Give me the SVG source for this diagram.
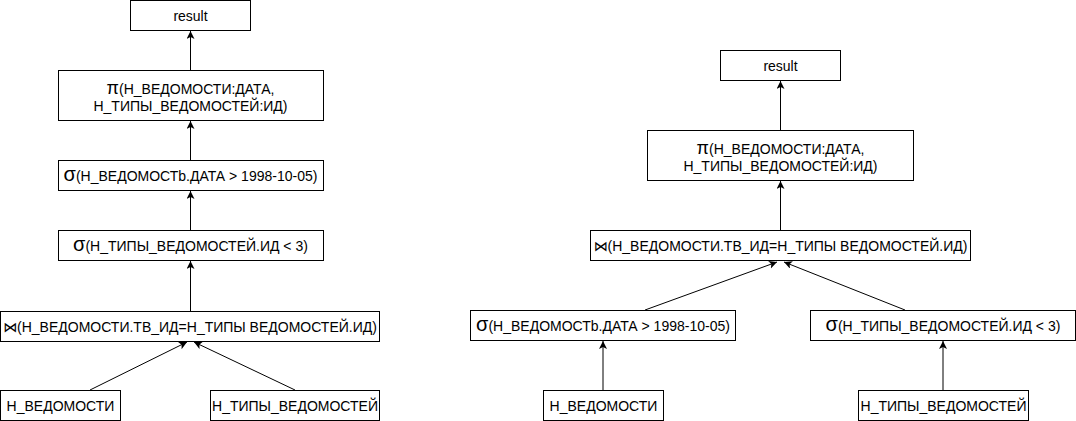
<svg xmlns="http://www.w3.org/2000/svg" width="1076" height="421" viewBox="0 0 1076 421">
<style>
.box{fill:#fff;stroke:#000;stroke-width:1}
.t{font-family:"Liberation Sans",Arial,"DejaVu Sans",sans-serif;font-size:14px;fill:#000;text-anchor:middle}
.big{font-size:20px}
.pi{font-size:18px}
.edge{stroke:#000;stroke-width:1;fill:none;marker-end:url(#arr)}
</style>
<defs>
<marker id="arr" markerUnits="userSpaceOnUse" markerWidth="10" markerHeight="10" refX="8" refY="4" orient="auto">
<path d="M0,0 L8,4 L0,8 L2,4 Z" fill="#000"/>
</marker>
</defs>
<rect width="1076" height="421" fill="#fff"/>
<g id="connectors">
<line class="edge" x1="190.5" y1="70" x2="190.5" y2="31"/>
<line class="edge" x1="190.5" y1="160" x2="190.5" y2="121"/>
<line class="edge" x1="190.5" y1="230" x2="190.5" y2="191"/>
<line class="edge" x1="190.5" y1="311" x2="190.5" y2="261"/>
<line class="edge" x1="90" y1="390" x2="187" y2="342"/>
<line class="edge" x1="295" y1="390" x2="194" y2="342"/>
<line class="edge" x1="780.5" y1="130" x2="780.5" y2="81"/>
<line class="edge" x1="780.5" y1="230" x2="780.5" y2="181"/>
<line class="edge" x1="645" y1="310" x2="777" y2="262"/>
<line class="edge" x1="905" y1="310" x2="784" y2="262"/>
<line class="edge" x1="603" y1="390" x2="603" y2="341"/>
<line class="edge" x1="943" y1="390" x2="943" y2="341"/>
</g>
<g id="l_result">
<rect class="box" x="130.5" y="0.5" width="120" height="30"/>
<text class="t" x="190.5" y="20.5">result</text>
</g>
<g id="l_pi">
<rect class="box" x="58.5" y="70.5" width="265" height="50"/>
<text class="t" x="190.5" y="93.5"><tspan class="pi">π</tspan>(Н_ВЕДОМОСТИ:ДАТА,</text>
<text class="t" x="190.5" y="110.5">Н_ТИПЫ_ВЕДОМОСТЕЙ:ИД)</text>
</g>
<g id="l_sigma_date">
<rect class="box" x="58.5" y="160.5" width="265" height="30"/>
<text class="t" x="190.5" y="181"><tspan class="big">σ</tspan>(Н_ВЕДОМОСТb.ДАТА &gt; 1998-10-05)</text>
</g>
<g id="l_sigma_id">
<rect class="box" x="58.5" y="230.5" width="265" height="30"/>
<text class="t" x="190.5" y="251"><tspan class="big">σ</tspan>(Н_ТИПЫ_ВЕДОМОСТЕЙ.ИД &lt; 3)</text>
</g>
<g id="l_join">
<rect class="box" x="0.5" y="311.5" width="379" height="30"/>
<text class="t" x="190" y="331.5">⋈(Н_ВЕДОМОСТИ.ТВ_ИД=Н_ТИПЫ ВЕДОМОСТЕЙ.ИД)</text>
</g>
<g id="l_ved">
<rect class="box" x="0.5" y="390.5" width="120" height="30"/>
<text class="t" x="60.5" y="410.5">Н_ВЕДОМОСТИ</text>
</g>
<g id="l_tipy">
<rect class="box" x="210.5" y="390.5" width="169" height="30"/>
<text class="t" x="295" y="410.5">Н_ТИПЫ_ВЕДОМОСТЕЙ</text>
</g>
<g id="r_result">
<rect class="box" x="720.5" y="50.5" width="120" height="30"/>
<text class="t" x="780.5" y="70.5">result</text>
</g>
<g id="r_pi">
<rect class="box" x="647.5" y="130.5" width="266" height="50"/>
<text class="t" x="780.5" y="153.5"><tspan class="pi">π</tspan>(Н_ВЕДОМОСТИ:ДАТА,</text>
<text class="t" x="780.5" y="170.5">Н_ТИПЫ_ВЕДОМОСТЕЙ:ИД)</text>
</g>
<g id="r_join">
<rect class="box" x="590.5" y="230.5" width="380" height="30"/>
<text class="t" x="780.5" y="250.5">⋈(Н_ВЕДОМОСТИ.ТВ_ИД=Н_ТИПЫ ВЕДОМОСТЕЙ.ИД)</text>
</g>
<g id="r_sigma_date">
<rect class="box" x="470.5" y="310.5" width="265" height="30"/>
<text class="t" x="603" y="331"><tspan class="big">σ</tspan>(Н_ВЕДОМОСТb.ДАТА &gt; 1998-10-05)</text>
</g>
<g id="r_sigma_id">
<rect class="box" x="810.5" y="310.5" width="265" height="30"/>
<text class="t" x="943" y="331"><tspan class="big">σ</tspan>(Н_ТИПЫ_ВЕДОМОСТЕЙ.ИД &lt; 3)</text>
</g>
<g id="r_ved">
<rect class="box" x="543.5" y="390.5" width="120" height="30"/>
<text class="t" x="603.5" y="410.5">Н_ВЕДОМОСТИ</text>
</g>
<g id="r_tipy">
<rect class="box" x="858.5" y="390.5" width="170" height="30"/>
<text class="t" x="943.5" y="410.5">Н_ТИПЫ_ВЕДОМОСТЕЙ</text>
</g>
</svg>
